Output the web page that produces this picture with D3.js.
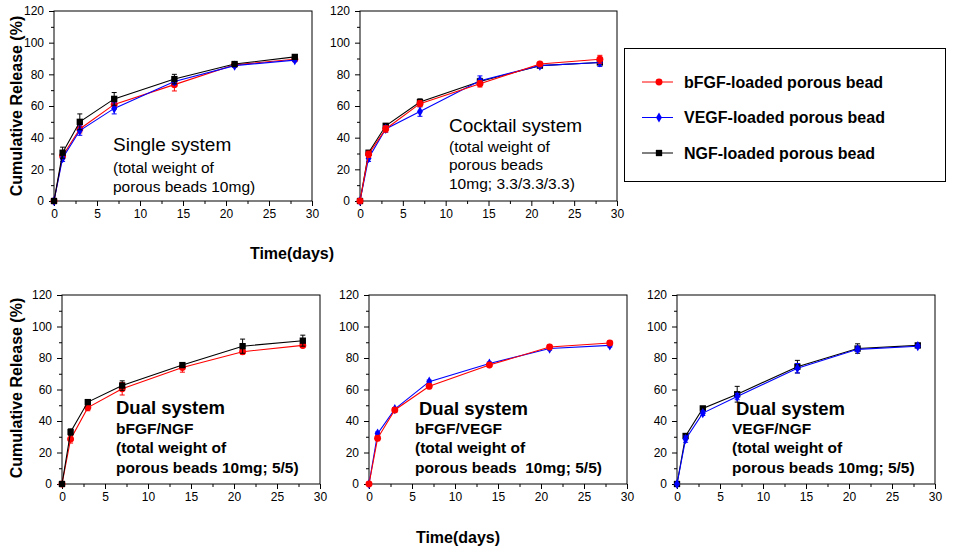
<!DOCTYPE html>
<html><head><meta charset="utf-8">
<script src="https://cdn.jsdelivr.net/npm/d3@7"></script>
<style>body{margin:0;background:#fff}svg{display:block}text{font-family:Arial,"Liberation Sans",sans-serif}</style>
</head><body><svg id="c" width="956" height="553"></svg>
<script>
// ---- data ----
const days = [0, 1, 3, 7, 14, 21, 28];
const xTicks = [0, 5, 10, 15, 20, 25, 30];
const yTicks = [0, 20, 40, 60, 80, 100, 120];
const seriesNames = ["bFGF-loaded porous bead", "VEGF-loaded porous bead", "NGF-loaded porous bead"];

const singleBFGF = [0, 28.5, 45.5, 61, 73.5, 86, 89.5];
const singleBFGFErr = [0, 2, 2.5, 3, 4, 1, 1];
const singleVEGF = [0, 27, 44.5, 58.5, 75.5, 85.5, 89];
const singleVEGFErr = [0, 2, 3, 3.5, 2, 1, 1];
const singleNGF = [0, 30.5, 50, 64.5, 77, 86.5, 91];
const singleNGFErr = [0, 3.5, 5, 4, 3, 1, 1.5];

const cocktailBFGF = [0, 29.5, 45.5, 61.5, 74, 86.5, 89.5];
const cocktailBFGFErr = [0, 2, 2, 2, 2, 1, 2.5];
const cocktailVEGF = [0, 27, 45.5, 56.5, 76, 85.5, 87.5];
const cocktailVEGFErr = [0, 2, 2, 3, 3, 1, 2.5];
const cocktailNGF = [0, 30.5, 47.5, 62.5, 75.5, 85.5, 87.5];
const cocktailNGFErr = [0, 1, 1, 2, 2, 1, 1];

const bnBFGF = [0, 28.5, 48.5, 60.5, 74, 84, 88];
const bnBFGFErr = [0, 2.5, 2, 4, 3, 1.5, 1];
const bnNGF = [0, 33, 52, 62.5, 75.5, 87.5, 91];
const bnNGFErr = [0, 2, 1, 3, 1.5, 4.5, 3.5];

const bvBFGF = [0, 29, 47, 62, 75.5, 87, 89.5];
const bvBFGFErr = [0, 1.5, 1.5, 1.5, 1, 1, 1];
const bvVEGF = [0, 32, 47.5, 65, 76.5, 86, 88];
const bvVEGFErr = [0, 1, 1, 1, 1, 1, 1];

const vnVEGF = [0, 28.5, 45, 55.5, 73.5, 85.5, 87.5];
const vnVEGFErr = [0, 2, 1.5, 2, 3, 1.5, 1];
const vnNGF = [0, 30.5, 48, 57, 74.5, 86, 88];
const vnNGFErr = [0, 1.5, 1, 5, 4, 3, 1];

const annSingle = ["Single system", "(total weight of", "porous beads 10mg)"];
const annCocktail = ["Cocktail system", "(total weight of", "porous beads", "10mg; 3.3/3.3/3.3)"];
const annBN = ["Dual system", "bFGF/NGF", "(total weight of", "porous beads 10mg; 5/5)"];
const annBV = ["Dual system", "bFGF/VEGF", "(total weight of", "porous beads  10mg; 5/5)"];
const annVN = ["Dual system", "VEGF/NGF", "(total weight of", "porous beads 10mg; 5/5)"];

// ---- styles ----
const colors = {bFGF: "#ff0000", VEGF: "#0000ff", NGF: "#000000"};
const symbols = {bFGF: d3.symbolCircle, VEGF: d3.symbolDiamond, NGF: d3.symbolSquare};
const symSize = {bFGF: 38, VEGF: 30, NGF: 40};

const panels = [
  {x0: 54, x1: 312, y0: 11, y1: 201, series: [
    {k: "bFGF", v: singleBFGF, e: singleBFGFErr},
    {k: "VEGF", v: singleVEGF, e: singleVEGFErr},
    {k: "NGF", v: singleNGF, e: singleNGFErr}],
    ann: annSingle, ax: 113, ay: [151, 173, 192], bold: false},
  {x0: 360, x1: 617, y0: 11, y1: 201, series: [
    {k: "NGF", v: cocktailNGF, e: cocktailNGFErr},
    {k: "VEGF", v: cocktailVEGF, e: cocktailVEGFErr},
    {k: "bFGF", v: cocktailBFGF, e: cocktailBFGFErr}],
    ann: annCocktail, ax: 449, ay: [132, 152, 170, 189], bold: false},
  {x0: 62, x1: 320, y0: 295, y1: 484, series: [
    {k: "bFGF", v: bnBFGF, e: bnBFGFErr},
    {k: "NGF", v: bnNGF, e: bnNGFErr}],
    ann: annBN, ax: 116, ay: [414, 434, 453, 473], bold: true},
  {x0: 369, x1: 627, y0: 295, y1: 484, series: [
    {k: "VEGF", v: bvVEGF, e: bvVEGFErr},
    {k: "bFGF", v: bvBFGF, e: bvBFGFErr}],
    ann: annBV, ax: 415, ay: [415, 434, 453, 473], bold: true, titleDx: 4},
  {x0: 677, x1: 935, y0: 295, y1: 484, series: [
    {k: "NGF", v: vnNGF, e: vnNGFErr},
    {k: "VEGF", v: vnVEGF, e: vnVEGFErr}],
    ann: annVN, ax: 732, ay: [415, 434, 453, 473], bold: true, titleDx: 4}
];

const svg = d3.select("#c");

panels.forEach(p => {
  const x = d3.scaleLinear().domain([0, 30]).range([p.x0, p.x1]);
  const y = d3.scaleLinear().domain([0, 120]).range([p.y1, p.y0]);
  const g = svg.append("g");

  // frame
  g.append("rect").attr("x", p.x0).attr("y", p.y0).attr("width", p.x1 - p.x0).attr("height", p.y1 - p.y0)
    .attr("fill", "none").attr("stroke", "#000").attr("stroke-width", 1);

  // minor ticks
  const xMinor = g.append("g").attr("transform", `translate(0,${p.y1})`)
    .call(d3.axisBottom(x).tickValues(d3.range(2.5, 30, 5)).tickSize(3).tickFormat(""));
  xMinor.select(".domain").remove();
  const yMinor = g.append("g").attr("transform", `translate(${p.x0},0)`)
    .call(d3.axisLeft(y).tickValues(d3.range(10, 120, 20)).tickSize(3).tickFormat(""));
  yMinor.select(".domain").remove();

  const xa = g.append("g").attr("transform", `translate(0,${p.y1})`)
    .call(d3.axisBottom(x).tickValues(xTicks).tickSize(5).tickPadding(3).tickSizeOuter(0));
  const ya = g.append("g").attr("transform", `translate(${p.x0},0)`)
    .call(d3.axisLeft(y).tickValues(yTicks).tickSize(5).tickPadding(5).tickSizeOuter(0));
  [xa, ya].forEach(a => {
    a.select(".domain").remove();
    a.selectAll("text").attr("font-size", 12).attr("fill", "#000")
      .attr("font-family", "Arial, 'Liberation Sans', sans-serif");
  });

  // series
  p.series.forEach(s => {
    const c = colors[s.k];
    const pts = days.map((d, i) => ({d, v: s.v[i], e: s.e[i]}));
    // error bars
    const eb = g.append("g").attr("stroke", c).attr("stroke-width", 1);
    pts.filter(q => q.e > 0).forEach(q => {
      eb.append("line").attr("x1", x(q.d)).attr("x2", x(q.d)).attr("y1", y(q.v - q.e)).attr("y2", y(q.v + q.e));
      [q.v - q.e, q.v + q.e].forEach(t => eb.append("line")
        .attr("x1", x(q.d) - 2.5).attr("x2", x(q.d) + 2.5).attr("y1", y(t)).attr("y2", y(t)));
    });
    g.append("path").datum(pts).attr("fill", "none").attr("stroke", c).attr("stroke-width", 1.1)
      .attr("d", d3.line().x(q => x(q.d)).y(q => y(q.v)));
    g.selectAll(null).data(pts).enter().append("path")
      .attr("transform", q => `translate(${x(q.d)},${y(q.v)})`)
      .attr("d", d3.symbol().type(symbols[s.k]).size(symSize[s.k]))
      .attr("fill", c);
  });

  // annotation
  p.ann.forEach((t, i) => {
    g.append("text").attr("x", p.ax + (i === 0 && p.titleDx ? p.titleDx : 0)).attr("y", p.ay[i])
      .attr("font-size", i === 0 ? (p.bold ? 18.5 : 19) : (p.bold ? 15.5 : 15.5))
      .attr("font-weight", p.bold ? "bold" : "normal")
      .attr("fill", "#000")
      .attr("xml:space", "preserve").style("white-space", "pre")
      .text(t);
  });
});

// axis titles
[[16, 106], [16, 388]].forEach(([cx, cy]) => {
  svg.append("text").attr("transform", `translate(${cx + 6},${cy}) rotate(-90)`)
    .attr("text-anchor", "middle").attr("font-size", 16).attr("font-weight", "bold")
    .text("Cumulative Release (%)");
});
[[292, 259], [458, 543]].forEach(([cx, cy]) => {
  svg.append("text").attr("x", cx).attr("y", cy).attr("text-anchor", "middle")
    .attr("font-size", 16).attr("font-weight", "bold").text("Time(days)");
});

// legend
const lg = svg.append("g");
lg.append("rect").attr("x", 624.5).attr("y", 48.5).attr("width", 321).attr("height", 133)
  .attr("fill", "#fff").attr("stroke", "#000").attr("stroke-width", 1);
const legendKeys = ["bFGF", "VEGF", "NGF"];
const legY = d3.scalePoint().domain(legendKeys).range([82, 153]);
legendKeys.forEach((k, i) => {
  const yy = legY(k);
  lg.append("line").attr("x1", 642).attr("x2", 673).attr("y1", yy).attr("y2", yy)
    .attr("stroke", colors[k]).attr("stroke-width", 1);
  lg.append("path").attr("transform", `translate(659,${yy})`)
    .attr("d", d3.symbol().type(symbols[k]).size(symSize[k])).attr("fill", colors[k]);
  lg.append("text").attr("x", 684).attr("y", yy + 5.5).attr("font-size", 16).attr("font-weight", "bold")
    .text(seriesNames[i]);
});
</script></body></html>
